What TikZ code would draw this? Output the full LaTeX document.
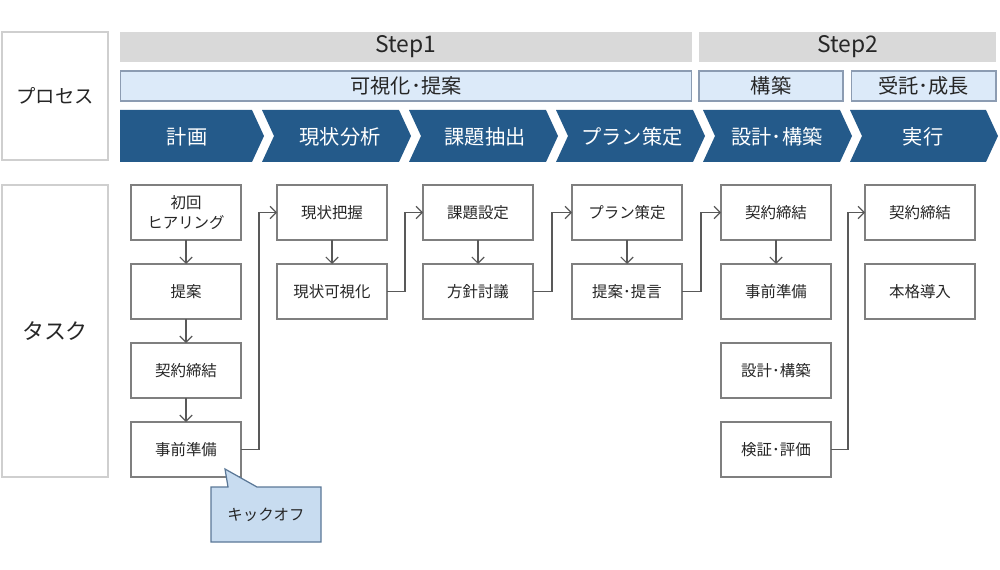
\documentclass[tikz,border=0pt]{standalone}
\usepackage{fontspec}
\setmainfont{Noto Sans CJK JP}
\usetikzlibrary{arrows.meta}

\definecolor{chevblue}{HTML}{245A8A}
\definecolor{barblue}{HTML}{DCEAF9}
\definecolor{barline}{HTML}{8C9CB2}
\definecolor{bargray}{HTML}{D9D9D9}
\definecolor{boxline}{HTML}{7F7F7F}
\definecolor{sideline}{HTML}{CFCFCF}
\definecolor{calloutfill}{HTML}{C8DCF0}
\definecolor{calloutline}{HTML}{5B7897}
\definecolor{txt}{HTML}{262626}
\definecolor{arrline}{HTML}{595959}

\tikzset{
	sidebox/.style={draw=sideline, line width=0.8pt, fill=white, minimum width=2.12cm, inner sep=0pt, outer sep=0pt, text=txt},
	stepbar/.style={fill=bargray, minimum height=0.6cm, inner sep=0pt, outer sep=0pt, text=txt, font=\fontsize{13}{14}\selectfont},
	phasebar/.style={draw=barline, line width=0.6pt, fill=barblue, minimum height=0.6cm, inner sep=0pt, outer sep=0pt, text=txt, font=\fontsize{11.5}{13}\selectfont},
	chevtext/.style={text=white, font=\fontsize{11.5}{13}\selectfont},
	taskbox/.style={draw=boxline, line width=0.8pt, fill=white, minimum width=2.2cm, minimum height=1.1cm, inner sep=0pt, outer sep=0pt, align=center, text=txt, font=\fontsize{8.8}{11}\selectfont},
	arr/.style={draw=arrline, line width=0.7pt, -{Straight Barb[length=3.5pt,width=7pt]}},
}

\begin{document}
\begin{tikzpicture}[x=0.02cm, y=-0.02cm]
	\useasboundingbox (0,0) rectangle (1000,570);

	%side labels
	\node[sidebox, minimum height=2.56cm, font=\fontsize{11}{12}\selectfont] (proc) at (55,96) {プロセス};
	\node[sidebox, minimum height=5.84cm, font=\fontsize{12.5}{14}\selectfont] (task) at (55,331) {タスク};

	%step bars
	\node[stepbar, minimum width=11.44cm] (step1) at (406,47) {Step1};
	\node[stepbar, minimum width=5.94cm] (step2) at (847.5,47) {Step2};

	%phase bars
	\node[phasebar, minimum width=11.44cm] (ph1) at (406,86) {可視化･提案};
	\node[phasebar, minimum width=2.88cm] (ph2) at (771,86) {構築};
	\node[phasebar, minimum width=2.9cm] (ph3) at (923.5,86) {受託･成長};

	%chevrons
	\fill[chevblue] (120,110) -- (252,110) -- (264,136) -- (252,162) -- (120,162) -- cycle;
	\fill[chevblue] (262,110) -- (399,110) -- (411,136) -- (399,162) -- (262,162) -- (274,136) -- cycle;
	\fill[chevblue] (409,110) -- (546,110) -- (558,136) -- (546,162) -- (409,162) -- (421,136) -- cycle;
	\fill[chevblue] (556,110) -- (693,110) -- (705,136) -- (693,162) -- (556,162) -- (568,136) -- cycle;
	\fill[chevblue] (703,110) -- (840,110) -- (852,136) -- (840,162) -- (703,162) -- (715,136) -- cycle;
	\fill[chevblue] (850,110) -- (986,110) -- (998,136) -- (986,162) -- (850,162) -- (862,136) -- cycle;
	\node[chevtext] (c1) at (187,137) {計画};
	\node[chevtext] (c2) at (340,137) {現状分析};
	\node[chevtext] (c3) at (485,137) {課題抽出};
	\node[chevtext] (c4) at (632,137) {プラン策定};
	\node[chevtext] (c5) at (777,137) {設計･構築};
	\node[chevtext] (c6) at (923,137) {実行};

	%tasks
	\node[taskbox] (a1) at (186,212.5) {初回\\ヒアリング};
	\node[taskbox] (a2) at (186,291.5) {提案};
	\node[taskbox] (a3) at (186,370.5) {契約締結};
	\node[taskbox] (a4) at (186,449.5) {事前準備};
	%
	\node[taskbox] (b1) at (332,212.5) {現状把握};
	\node[taskbox] (b2) at (332,291.5) {現状可視化};
	%
	\node[taskbox] (d1) at (478,212.5) {課題設定};
	\node[taskbox] (d2) at (478,291.5) {方針討議};
	%
	\node[taskbox] (e1) at (627,212.5) {プラン策定};
	\node[taskbox] (e2) at (627,291.5) {提案･提言};
	%
	\node[taskbox] (f1) at (776,212.5) {契約締結};
	\node[taskbox] (f2) at (776,291.5) {事前準備};
	\node[taskbox] (f3) at (776,370.5) {設計･構築};
	\node[taskbox] (f4) at (776,449.5) {検証･評価};
	%
	\node[taskbox] (g1) at (920,212.5) {契約締結};
	\node[taskbox] (g2) at (920,291.5) {本格導入};

	%arrows down
	\draw[arr] (a1) -- (a2);
	\draw[arr] (a2) -- (a3);
	\draw[arr] (a3) -- (a4);
	\draw[arr] (b1) -- (b2);
	\draw[arr] (d1) -- (d2);
	\draw[arr] (e1) -- (e2);
	\draw[arr] (f1) -- (f2);

	%arrows across
	\draw[arr] (a4.east) -- ++(18,0) |- (b1.west);
	\draw[arr] (b2.east) -- ++(18,0) |- (d1.west);
	\draw[arr] (d2.east) -- ++(19,0) |- (e1.west);
	\draw[arr] (e2.east) -- ++(19,0) |- (f1.west);
	\draw[arr] (f4.east) -- ++(17,0) |- (g1.west);

	%callout
	\filldraw[fill=calloutfill, draw=calloutline, line width=0.7pt] (211,487) -- (228,487) -- (225,469) -- (257,487) -- (321,487) -- (321,542) -- (211,542) -- cycle;
	\node[text=txt, font=\fontsize{8.8}{11}\selectfont] (kick) at (266,515) {キックオフ};
\end{tikzpicture}
\end{document}
